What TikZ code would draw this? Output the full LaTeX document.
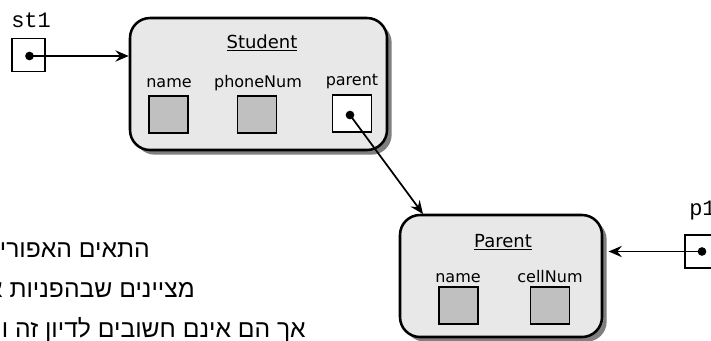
\documentclass[tikz,border=0pt]{standalone}
\usepackage{fontspec}
\setmainfont{DejaVu Sans}
\newfontfamily\monofont{Liberation Mono}
\newfontfamily\hebfont[Script=Hebrew]{Liberation Sans}
\TeXXeTstate=1
\usetikzlibrary{arrows.meta,shadows}
\definecolor{boxfill}{HTML}{E8E8E8}
\definecolor{slotfill}{HTML}{C0C0C0}
\definecolor{shadowgray}{HTML}{7F7F7F}
\begin{document}
\begin{tikzpicture}[x=0.75pt,y=-0.75pt,
  objbox/.style={draw=black, line width=1.9pt, fill=boxfill, rounded corners=15pt,
    drop shadow={shadow xshift=3.5pt, shadow yshift=-3.5pt, fill=shadowgray, opacity=1},
    inner sep=0pt},
  slot/.style={draw=black, line width=1.2pt, fill=slotfill, minimum width=29pt,
    minimum height=27.75pt, inner sep=0pt},
  refslot/.style={slot, fill=white},
  varbox/.style={draw=black, line width=1.2pt, fill=white, minimum width=24.75pt,
    minimum height=25pt, inner sep=0pt},
  lbl/.style={font=\fontsize{12}{14}\selectfont, anchor=base, inner sep=0pt},
  ttl/.style={font=\fontsize{13.5}{16}\selectfont, anchor=base, inner sep=0pt},
  varname/.style={font=\monofont\fontsize{16.5}{18}\selectfont, anchor=base west, inner sep=0pt},
  heb/.style={font=\hebfont\fontsize{18.5}{21}\selectfont, anchor=base east, inner sep=0pt},
  ptr/.style={line width=1.3pt, -{Stealth[length=10pt,width=8.5pt,inset=3.5pt]}},
  dotn/.style={circle, fill=black, inner sep=0pt, minimum size=6.5pt}
]
\useasboundingbox (0,0) rectangle (711,340);
\begin{scope}
\clip (0,0) rectangle (711,340);

% Hebrew note
\node[heb] (h1) at (150,257) {\beginR התאים האפורים\endR};
\node[heb] (h2) at (195,297) {\beginR מציינים שבהפניות אלו\endR};
\node[heb] (h3) at (306,337) {\beginR אך הם אינם חשובים לדיון זה ויש\endR};

% Student object
\node[objbox, minimum width=192.75pt, minimum height=99pt] (student) at (258.5,84) {};
\node[ttl] (stitle) at (262,48) {\underline{Student}};
\node[lbl] (sl1) at (169,87) {name};
\node[lbl] (sl2) at (258,87) {phoneNum};
\node[lbl] (sl3) at (352,85) {parent};
\node[slot] (sname) at (168.5,114.5) {};
\node[slot] (sphone) at (257,114.5) {};
\node[refslot] (sparent) at (352,113.5) {};
\node[dotn] (dpar) at (350,115) {};

% Parent object
\node[objbox, minimum width=151.5pt, minimum height=91.5pt] (parent) at (501,276) {};
\node[ttl] (ptitle) at (503,247) {\underline{Parent}};
\node[lbl] (pl1) at (458,282) {name};
\node[lbl] (pl2) at (550,282) {cellNum};
\node[slot] (pname) at (458.5,305.5) {};
\node[slot] (pcell) at (550,305.5) {};

% variables
\node[varname] (st1lbl) at (11,27) {st1};
\node[varbox] (st1) at (28.5,55) {};
\node[dotn] (dst1) at (29.5,56) {};
\node[varname] (p1lbl) at (689,215) {p1};
\node[varbox] (p1) at (701.5,251.5) {};
\node[dotn] (dp1) at (702,251.5) {};

% connectors
\coordinate (ptip) at (423,214);
\draw[ptr] (dst1.center) -- (dst1.center -| student.west);
\draw[ptr] (dpar.center) -- (ptip);
\draw[ptr] (dp1.center) -- ([xshift=4pt]dp1.center -| parent.east);
\end{scope}
\end{tikzpicture}
\end{document}
